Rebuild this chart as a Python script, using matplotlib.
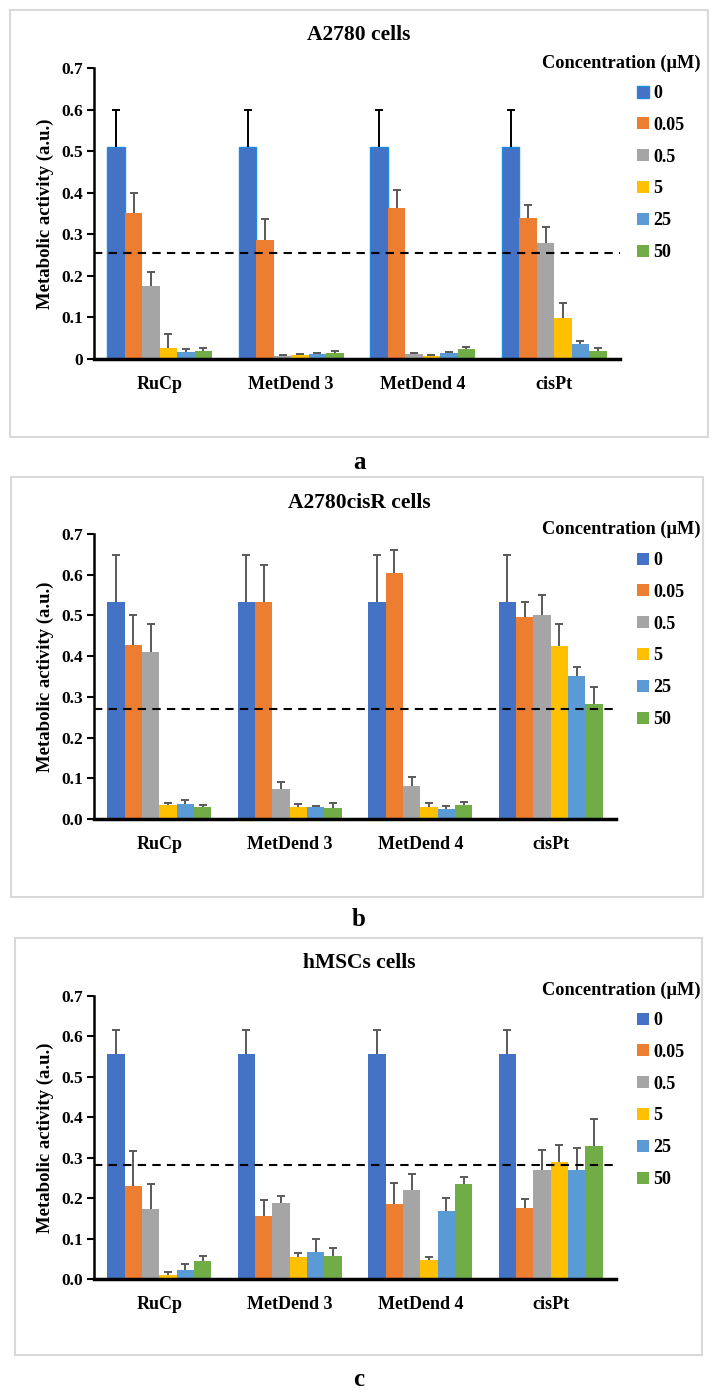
import matplotlib
matplotlib.use("Agg")
import matplotlib.pyplot as plt
from matplotlib.patches import Rectangle
import numpy as np

plt.rcParams["font.family"] = ["Liberation Serif", "DejaVu Serif"]
plt.rcParams["font.weight"] = "bold"

groups = ["RuCp", "MetDend 3", "MetDend 4", "cisPt"]
concentrations = ["0", "0.05", "0.5", "5", "25", "50"]
colors = ["#4472C4", "#ED7D31", "#A5A5A5", "#FFC000", "#5B9BD5", "#70AD47"]

# rows = groups, columns = concentrations
a2780_mean = [
    [0.510, 0.352, 0.175, 0.026, 0.016, 0.020],
    [0.510, 0.286, 0.008, 0.010, 0.011, 0.014],
    [0.510, 0.363, 0.012, 0.007, 0.014, 0.024],
    [0.510, 0.339, 0.280, 0.098, 0.037, 0.019],
]
a2780_err = [
    [0.090, 0.048, 0.035, 0.034, 0.008, 0.006],
    [0.090, 0.050, 0.002, 0.003, 0.003, 0.006],
    [0.090, 0.043, 0.002, 0.003, 0.003, 0.006],
    [0.090, 0.031, 0.038, 0.037, 0.007, 0.007],
]
cisr_mean = [
    [0.532, 0.428, 0.411, 0.034, 0.038, 0.029],
    [0.532, 0.534, 0.074, 0.029, 0.029, 0.026],
    [0.532, 0.605, 0.082, 0.029, 0.025, 0.035],
    [0.532, 0.497, 0.500, 0.426, 0.352, 0.282],
]
cisr_err = [
    [0.116, 0.072, 0.069, 0.005, 0.008, 0.005],
    [0.116, 0.091, 0.017, 0.008, 0.002, 0.013],
    [0.116, 0.056, 0.020, 0.010, 0.006, 0.007],
    [0.116, 0.035, 0.050, 0.054, 0.022, 0.041],
]
hmsc_mean = [
    [0.556, 0.231, 0.172, 0.009, 0.022, 0.044],
    [0.556, 0.156, 0.189, 0.055, 0.067, 0.058],
    [0.556, 0.185, 0.220, 0.048, 0.168, 0.235],
    [0.556, 0.175, 0.269, 0.289, 0.269, 0.329],
]
hmsc_err = [
    [0.061, 0.086, 0.062, 0.009, 0.014, 0.014],
    [0.061, 0.039, 0.016, 0.010, 0.032, 0.018],
    [0.061, 0.053, 0.039, 0.007, 0.033, 0.017],
    [0.061, 0.023, 0.050, 0.042, 0.054, 0.066],
]
thresholds = [0.256, 0.270, 0.282]
titles = ["A2780 cells", "A2780cisR cells", "hMSCs cells"]
panel_letters = ["a", "b", "c"]

W, H = 717, 1397
fig = plt.figure(figsize=(W / 100, H / 100), dpi=100)


def fx(px):
    return px / W


def fy(py):
    return 1 - py / H


# pixel layout per panel
layouts = [
    dict(box=(10, 10, 708, 437), ax=(94, 68, 620, 359), title=35, letter=462, leg_title=63, leg_top=85),
    dict(box=(11, 477, 703, 897), ax=(94, 534, 616, 819), title=503, letter=920, leg_title=529, leg_top=552),
    dict(box=(15, 938, 702, 1355), ax=(94, 996, 616, 1279), title=963, letter=1380, leg_title=990, leg_top=1012),
]
panels = [(a2780_mean, a2780_err), (cisr_mean, cisr_err), (hmsc_mean, hmsc_err)]

width = 0.133
x = np.arange(len(groups))

for k, ((mean, err), lay) in enumerate(zip(panels, layouts)):
    mean = np.array(mean)
    err = np.array(err)
    bl, bt, br, bb = lay["box"]
    fig.patches.append(
        Rectangle((fx(bl), fy(bb)), fx(br - bl), (bb - bt) / H, transform=fig.transFigure,
                  fill=False, edgecolor="#d9d9d9", linewidth=1.5)
    )
    al, at, ar, ab = lay["ax"]
    ax = fig.add_axes([fx(al), fy(ab), fx(ar - al), (ab - at) / H])

    handles = []
    for i, conc in enumerate(concentrations):
        pos = x + (i - 2.5) * width
        first_panel_blue = k == 0 and i == 0
        ecol = "black" if first_panel_blue else "#595959"
        h = ax.bar(
            pos, mean[:, i], width,
            color=colors[i],
            edgecolor="#1C8BE0" if first_panel_blue else colors[i],
            linewidth=1.0 if first_panel_blue else 0,
            yerr=[np.zeros(len(groups)), err[:, i]],
            error_kw=dict(ecolor=ecol, elinewidth=1.4, capsize=3, capthick=1.4),
            label=conc, zorder=2,
        )
        # only the upper cap, like the original
        caplines = h.errorbar.lines[1]
        if len(caplines) > 1:
            caplines[0].set_visible(False)
        handles.append(h)

    ax.axhline(thresholds[k], color="black", linestyle=(0, (4, 3)), linewidth=1.5, zorder=3)

    ax.set_xlim(-0.5, len(groups) - 0.5)
    ax.set_ylim(0, 0.7)
    yt = np.arange(0, 0.71, 0.1)
    ax.set_yticks(yt)
    if k == 0:
        ax.set_yticklabels(["0"] + [f"{v:.1f}" for v in yt[1:]])
    else:
        ax.set_yticklabels([f"{v:.1f}" for v in yt])
    ax.set_xticks(x)
    ax.set_xticklabels(groups, fontsize=13, fontweight="bold")
    ax.tick_params(axis="x", length=0, pad=12)
    ax.tick_params(axis="y", length=5, width=1.5, direction="out", labelsize=12.5, pad=3)
    for side in ["top", "right"]:
        ax.spines[side].set_visible(False)
    ax.spines["left"].set_linewidth(1.8)
    ax.spines["bottom"].set_linewidth(2.5)
    ax.set_ylabel("Metabolic activity (a.u.)", fontsize=13.5, fontweight="bold", labelpad=5)

    fig.text(fx(359), fy(lay["title"]), titles[k], ha="center", va="center", fontsize=15.5, fontweight="bold")
    fig.text(fx(359), fy(lay["letter"]), panel_letters[k], ha="center", va="center", fontsize=18, fontweight="bold")
    fig.text(fx(700), fy(lay["leg_title"]), "Concentration (\u00b5M)", ha="right", va="center",
             fontsize=13.2, fontweight="bold")
    ax.legend(
        handles, concentrations, loc="upper left",
        bbox_to_anchor=(fx(637), fy(lay["leg_top"])), bbox_transform=fig.transFigure,
        frameon=False, handlelength=0.65, handleheight=0.65, handletextpad=0.25,
        labelspacing=0.82, borderaxespad=0, borderpad=0,
        prop=dict(size=13, weight="bold"),
    )

fig.savefig("out.png", dpi=100)
